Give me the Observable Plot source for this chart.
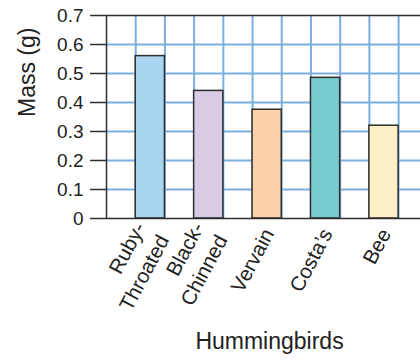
<!DOCTYPE html>
<html>
<head>
<meta charset="utf-8">
<script src="https://cdn.jsdelivr.net/npm/d3@7"></script>
<script src="https://cdn.jsdelivr.net/npm/@observablehq/plot@0.6"></script>
<style>
  html, body { margin: 0; padding: 0; background: #fff; }
  svg { display: block; }
</style>
</head>
<body>
<div id="chart"></div>
<script>
const categories = ["Ruby-Throated", "Black-Chinned", "Vervain", "Costa's", "Bee"];
const labels = ["Ruby-\nThroated", "Black-\nChinned", "Vervain", "Costa\u2019s", "Bee"];
const masses = [0.56, 0.44, 0.375, 0.485, 0.32];
const colors = ["#a9d5f0", "#dacbe4", "#fbd2ac", "#78cccd", "#fdf0c9"];
const yTicks = [0, 0.1, 0.2, 0.3, 0.4, 0.5, 0.6, 0.7];
const gridX = [1, 2, 3, 4, 5, 6, 7, 8, 9, 10];

const data = categories.map((c, i) => ({cat: c, label: labels[i], mass: masses[i], i}));

const font = "'Liberation Sans', Arial, Helvetica, sans-serif";
const dark = "#2e2e2e";
const blue = "#7cafe0";

const chart = Plot.plot({
  width: 420,
  height: 363,
  marginLeft: 106,
  marginRight: 0,
  marginTop: 15,
  marginBottom: 145,
  style: {fontFamily: font, color: "#222", background: "#fff"},
  x: {domain: [0, 10.75], axis: null},
  y: {domain: [0, 0.7], axis: null},
  color: {domain: categories, range: colors},
  marks: [
    Plot.ruleX(gridX, {stroke: blue, strokeWidth: 2}),
    Plot.ruleY(yTicks.slice(1, -1), {stroke: blue, strokeWidth: 2}),
    Plot.rectY(data, {x1: d => 2 * d.i + 1, x2: d => 2 * d.i + 2, y: "mass", fill: "cat", stroke: dark, strokeWidth: 1.5}),
    Plot.ruleY([0, 0.7], {stroke: dark, strokeWidth: 1.5}),
    Plot.ruleX([0], {stroke: dark, strokeWidth: 1.5}),
    Plot.axisY({ticks: yTicks, tickSize: 16, tickPadding: 7, fontSize: 19, stroke: dark, strokeWidth: 1.5, tickFormat: d => d === 0 ? "0" : d3.format(".1f")(d), label: null}),
    Plot.text(data, {x: d => 2 * d.i + 1.5, frameAnchor: "bottom", text: "label", rotate: -62, textAnchor: "end", lineAnchor: "middle", dy: 11, fontSize: 20.5, lineHeight: 1.3, fill: "#222"}),
    Plot.text(["Mass (g)"], {frameAnchor: "left", dx: -79, rotate: -90, fontSize: 23, fill: "#222"}),
    Plot.text(["Hummingbirds"], {frameAnchor: "bottom", dx: 6, dy: 130, fontSize: 23, fill: "#222"})
  ]
});
document.getElementById("chart").appendChild(chart);
</script>
</body>
</html>
